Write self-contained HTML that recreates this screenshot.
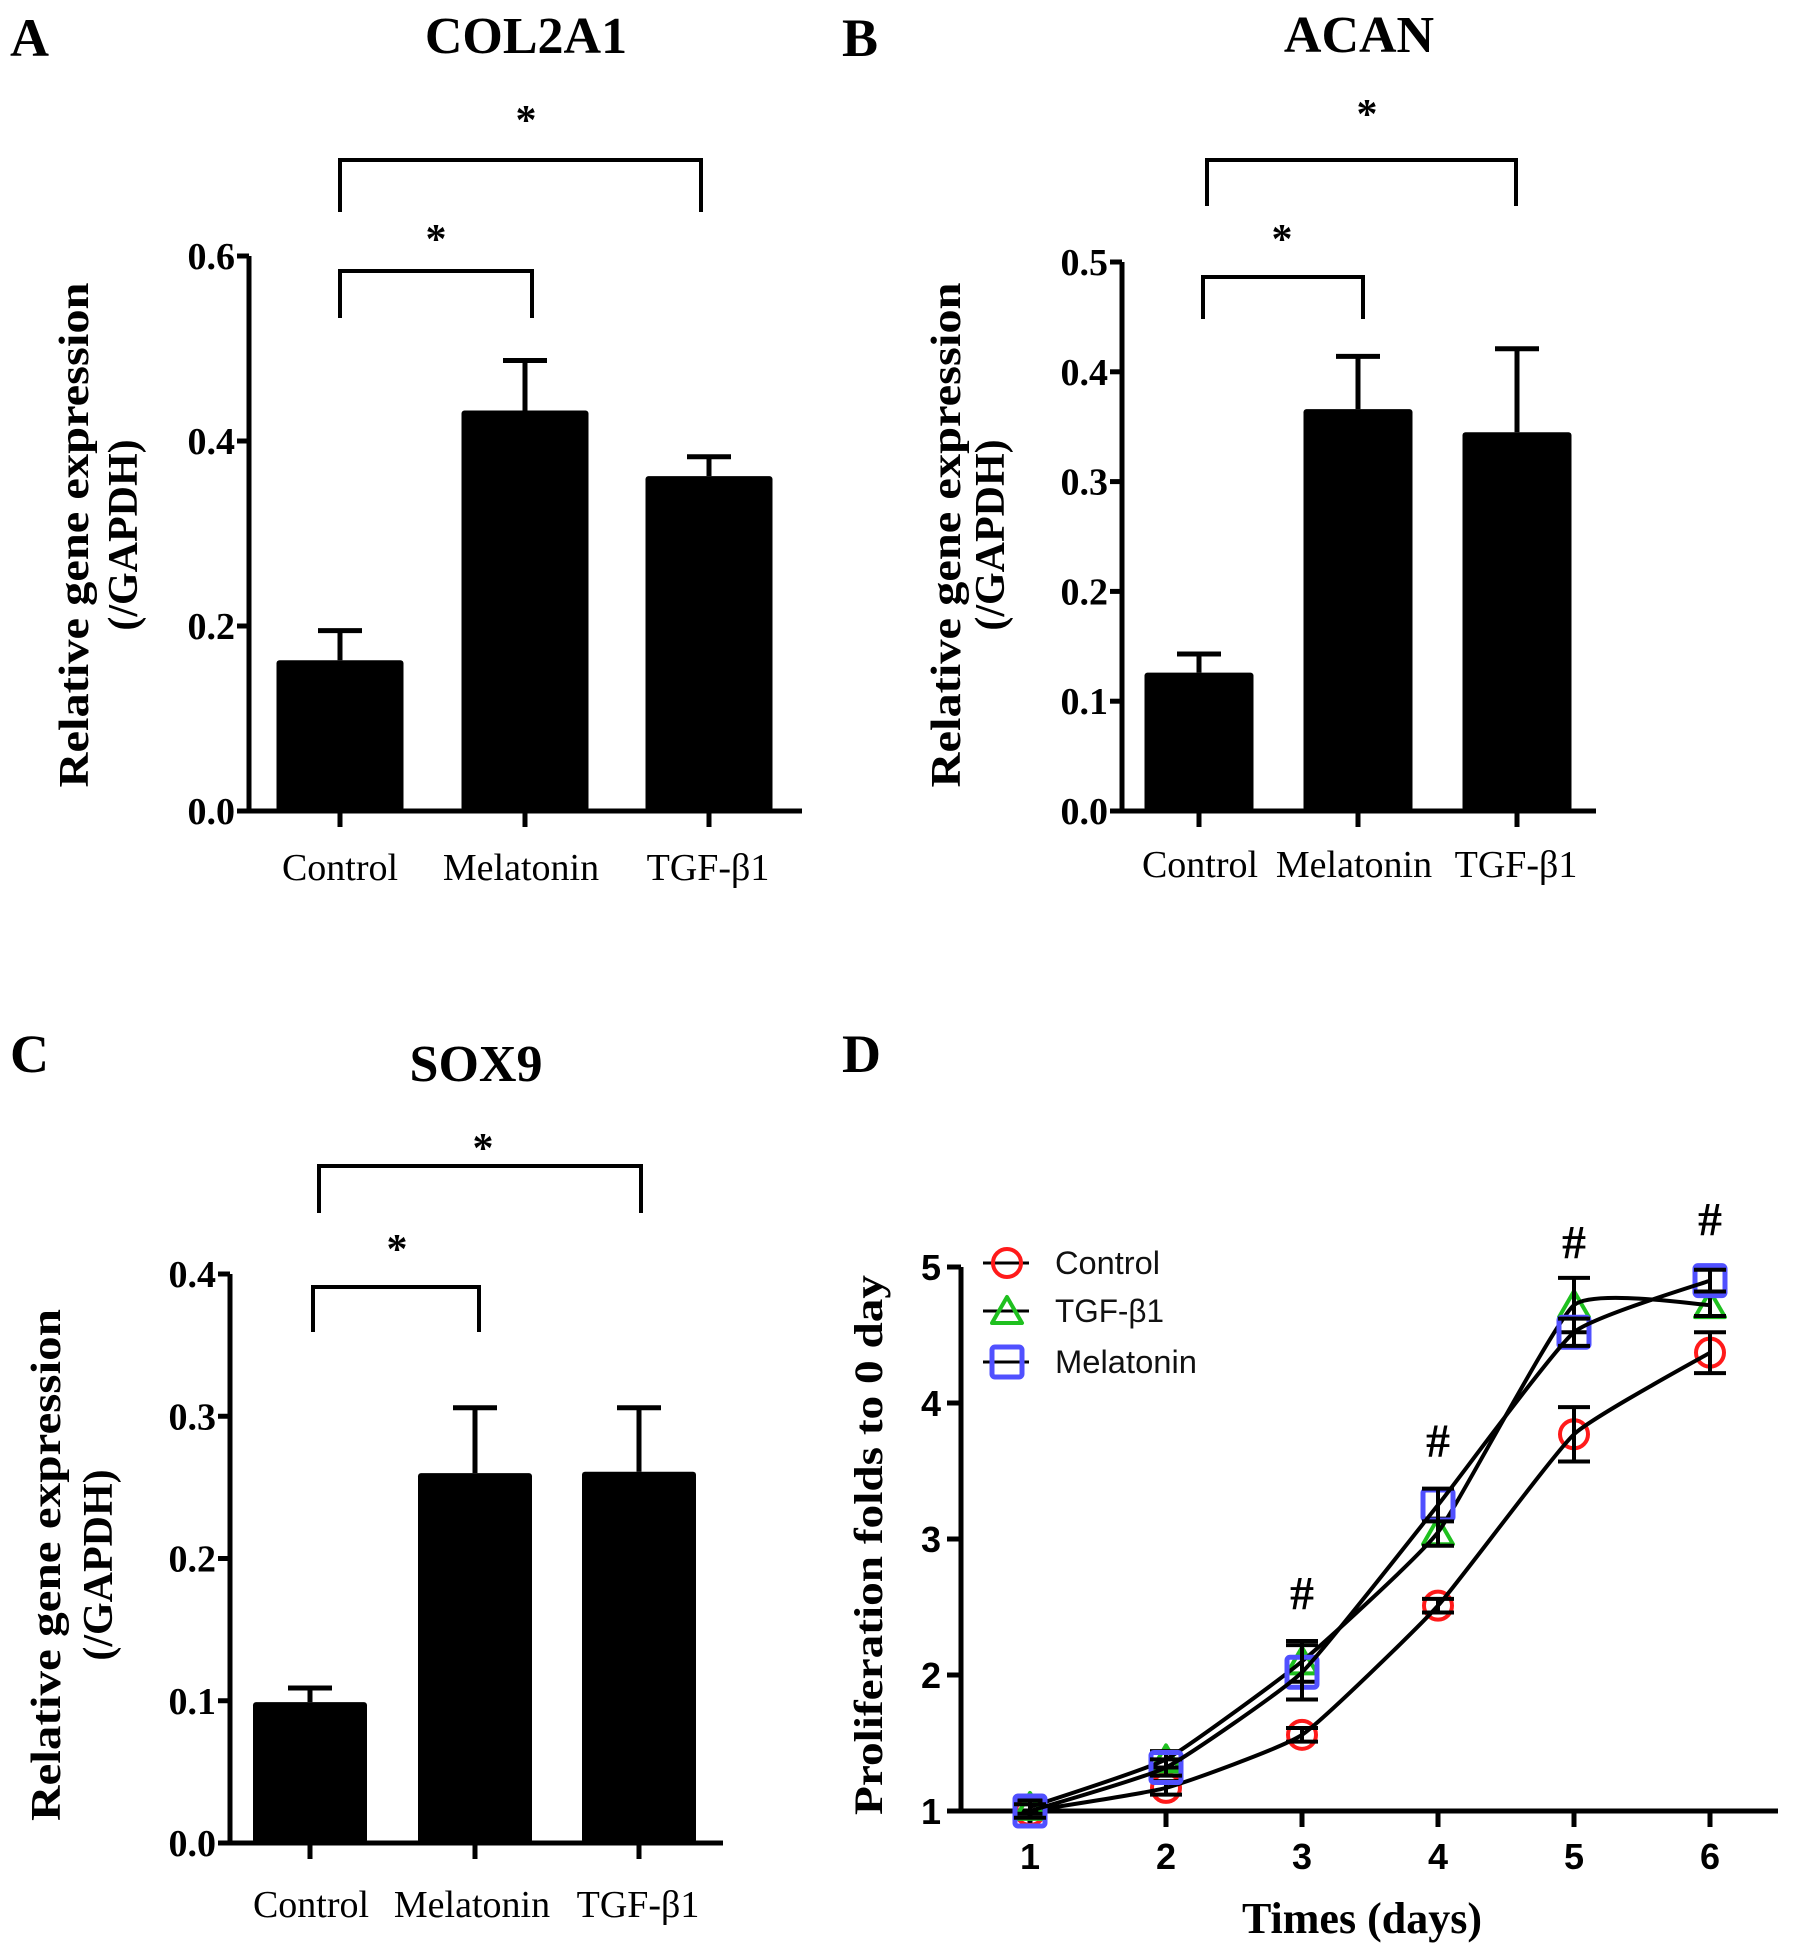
<!DOCTYPE html>
<html><head><meta charset="utf-8"><title>Chondrogenic gene expression and proliferation</title>
<style>
html,body{margin:0;padding:0;background:#fff;}
svg{display:block;}
.tb{font-family:"Liberation Serif",serif;font-weight:bold;fill:#000;}
.tn{font-family:"Liberation Serif",serif;fill:#000;}
.sb{font-family:"Liberation Sans",sans-serif;font-weight:bold;fill:#000;}
.sn{font-family:"Liberation Sans",sans-serif;fill:#111;}
</style></head>
<body>
<svg id="fig" width="1795" height="1957" viewBox="0 0 1795 1957" xmlns="http://www.w3.org/2000/svg">
<rect width="1795" height="1957" fill="#fff"/>
</svg>
<script>
// ---- Panel A data (COL2A1)
const aCategories = ["Control", "Melatonin", "TGF-β1"];
const aValues = [0.163, 0.433, 0.362];
const aErrors = [0.032, 0.054, 0.021];
const aTicks = [0.0, 0.2, 0.4, 0.6];
const aTickLabels = ["0.0", "0.2", "0.4", "0.6"];
// ---- Panel B data (ACAN)
const bCategories = ["Control", "Melatonin", "TGF-β1"];
const bValues = [0.126, 0.366, 0.345];
const bErrors = [0.017, 0.048, 0.076];
const bTicks = [0.0, 0.1, 0.2, 0.3, 0.4, 0.5];
const bTickLabels = ["0.0", "0.1", "0.2", "0.3", "0.4", "0.5"];
// ---- Panel C data (SOX9)
const cCategories = ["Control", "Melatonin", "TGF-β1"];
const cValues = [0.099, 0.26, 0.261];
const cErrors = [0.01, 0.046, 0.045];
const cTicks = [0.0, 0.1, 0.2, 0.3, 0.4];
const cTickLabels = ["0.0", "0.1", "0.2", "0.3", "0.4"];
// ---- Panel D data (proliferation)
const dDays = [1, 2, 3, 4, 5, 6];
const dControl = [1.0, 1.17, 1.56, 2.51, 3.77, 4.37];
const dControlErr = [0.05, 0.05, 0.05, 0.05, 0.2, 0.15];
const dTGF = [1.03, 1.38, 2.1, 3.05, 4.72, 4.72];
const dTGFErr = [0.05, 0.06, 0.15, 0.1, 0.2, 0.08];
const dMel = [1.0, 1.32, 2.02, 3.25, 4.52, 4.9];
const dMelErr = [0.05, 0.06, 0.2, 0.12, 0.1, 0.08];
const dYTicks = [1, 2, 3, 4, 5];
const dXTicks = [1, 2, 3, 4, 5, 6];
const dHashDays = [3, 4, 5, 6];
const dHashValues = [2.6, 3.72, 5.18, 5.35];

const NS = "http://www.w3.org/2000/svg";
const fig = document.getElementById("fig");
function mk(tag, attrs, parent) {
  const e = document.createElementNS(NS, tag);
  for (const k in attrs) e.setAttribute(k, attrs[k]);
  (parent || fig).appendChild(e);
  return e;
}
function txt(str, attrs, parent) {
  const t = mk("text", attrs, parent);
  t.textContent = str;
  return t;
}

function barPanel(L, cats, vals, errs, ticks, tickLabels) {
  const g = mk("g", {});
  
  
  const ymax = ticks[ticks.length - 1];
  const ys = v => L.y0 - (v / ymax) * (L.y0 - L.yTop);
  const xs = i => L.cx[i];
  const letter = txt(L.letter, {x: L.letterX, y: L.letterY, class: "tb", "font-size": 54}, g);
  
  
  const title = txt(L.title, {x: L.titleX, y: L.titleY, class: "tb", "font-size": 52, "text-anchor": "middle"}, g);
  
  
  for (let i = 0; i < cats.length; i++) {
    const top = ys(vals[i]);
    const etop = ys(vals[i] + errs[i]);
    const eb = mk("path", {d: `M${xs(i)} ${top} V${etop} M${xs(i)-22} ${etop} H${xs(i)+22}`, stroke: "#000", "stroke-width": 5, fill: "none"}, g);
    
    
    const r = mk("rect", {x: xs(i) - L.bw / 2, y: top, width: L.bw, height: L.y0 - top, fill: "#000", rx: 3}, g);
    
    
    const tk = mk("line", {x1: xs(i), x2: xs(i), y1: L.y0, y2: L.y0 + 16, stroke: "#000", "stroke-width": 5}, g);
    
    
    const lb = txt(cats[i], {x: L.labX[i], y: L.labY, class: "tn", "font-size": 38, "text-anchor": "middle"}, g);
    
    
  }
  const ax = mk("path", {d: `M${L.ax} ${L.yTop} V${L.y0} M${L.ax - 12} ${L.y0} H${L.xEnd}`, stroke: "#000", "stroke-width": 5, fill: "none"}, g);
  
  
  for (let i = 0; i < ticks.length; i++) {
    const y = ys(ticks[i]);
    const t = mk("line", {x1: L.ax - 12, x2: L.ax, y1: y, y2: y, stroke: "#000", "stroke-width": 5}, g);
    
    
    const tl = txt(tickLabels[i], {x: L.ax - 14, y: y + 13, class: "tb", "font-size": 38, "text-anchor": "end"}, g);
    
    
  }
  const yt1 = txt("Relative gene expression", {x: 0, y: 0, class: "tb", "font-size": 42, "text-anchor": "middle", transform: `translate(${L.yt1} ${L.ytCy}) rotate(-90)`, textLength: L.ytLen, lengthAdjust: "spacingAndGlyphs"}, g);
  
  
  const yt2 = txt("(/GAPDH)", {x: 0, y: 0, class: "tb", "font-size": 42, "text-anchor": "middle", transform: `translate(${L.yt2} ${L.ytCy}) rotate(-90)`}, g);
  
  
  for (const b of L.brackets) {
    const p = mk("path", {d: `M${b[0]} ${b[3]} V${b[2]} H${b[1]} V${b[3]}`, stroke: "#000", "stroke-width": 4, fill: "none"}, g);
    
    
    const s = txt("*", {x: b[4], y: b[5] + 22, class: "tb", "font-size": 42, "text-anchor": "middle"}, g);
    
    
  }
}

barPanel({id: "col2a1", letter: "A", letterX: 10, letterY: 56, title: "COL2A1", titleX: 526, titleY: 53,
  ax: 249, y0: 811, yTop: 256, xEnd: 802, bw: 127, cx: [340, 525, 709], labX: [340, 521, 708], labY: 880,
  yt1: 88, yt2: 137, ytCy: 535, ytLen: 505,
  brackets: [[340, 701, 160, 212, 526, 112], [340, 532, 271, 318, 436, 231]]},
  aCategories, aValues, aErrors, aTicks, aTickLabels);

barPanel({id: "acan", letter: "B", letterX: 842, letterY: 56, title: "ACAN", titleX: 1359, titleY: 52,
  ax: 1122, y0: 811, yTop: 262, xEnd: 1596, bw: 109, cx: [1199, 1358, 1517], labX: [1200, 1354, 1516], labY: 877,
  yt1: 960, yt2: 1004, ytCy: 535, ytLen: 505,
  brackets: [[1207, 1516, 160, 206, 1367, 106], [1203, 1363, 277, 319, 1282, 231]]},
  bCategories, bValues, bErrors, bTicks, bTickLabels);

barPanel({id: "sox9", letter: "C", letterX: 10, letterY: 1072, title: "SOX9", titleX: 476, titleY: 1081,
  ax: 230, y0: 1843, yTop: 1274, xEnd: 723, bw: 114, cx: [310, 475, 639], labX: [311, 472, 638], labY: 1917,
  yt1: 60, yt2: 112, ytCy: 1565, ytLen: 512,
  brackets: [[319, 641, 1166, 1213, 483, 1140], [313, 479, 1287, 1332, 397, 1241]]},
  cCategories, cValues, cErrors, cTicks, cTickLabels);

// ---- Panel D
(function () {
  const g = mk("g", {});
  
  
  const ax = 961, y1 = 1811, unit = 136, x1 = 1030, xEnd = 1778;
  const xs = d => x1 + (d - 1) * 136;
  const ys = v => y1 - (v - 1) * unit;
  const letter = txt("D", {x: 842, y: 1072, class: "tb", "font-size": 54}, g);
  
  
  const axes = mk("path", {d: `M${ax} ${ys(5)} V${y1} M${ax - 14} ${y1} H${xEnd}`, stroke: "#000", "stroke-width": 5, fill: "none"}, g);
  
  
  for (const t of dYTicks) {
    const l = mk("line", {x1: ax - 14, x2: ax, y1: ys(t), y2: ys(t), stroke: "#000", "stroke-width": 5}, g);
    
    
    const tl = txt(String(t), {x: ax - 20, y: ys(t) + 13, class: "sb", "font-size": 36, "text-anchor": "end"}, g);
    
    
  }
  for (const t of dXTicks) {
    const l = mk("line", {x1: xs(t), x2: xs(t), y1: y1, y2: y1 + 16, stroke: "#000", "stroke-width": 5}, g);
    
    
    const tl = txt(String(t), {x: xs(t), y: 1869, class: "sb", "font-size": 36, "text-anchor": "middle"}, g);
    
    
  }
  const xt = txt("Times (days)", {x: 1362, y: 1933, class: "tb", "font-size": 44, "text-anchor": "middle"}, g);
  
  
  const yt = txt("Proliferation folds to 0 day", {x: 0, y: 0, class: "tb", "font-size": 40, "text-anchor": "middle", transform: "translate(882 1545) rotate(-90)", textLength: 540, lengthAdjust: "spacingAndGlyphs"}, g);
  
  

  function marker(kind, color, cx, cy, parent) {
    let m;
    if (kind === "circle") m = mk("circle", {cx: cx, cy: cy, r: 14, fill: "none", stroke: color, "stroke-width": 4}, parent);
    else if (kind === "tri") m = mk("path", {d: `M${cx} ${cy - 14} L${cx + 15} ${cy + 12} L${cx - 15} ${cy + 12} Z`, fill: "none", stroke: color, "stroke-width": 4, "stroke-linejoin": "round"}, parent);
    else m = mk("rect", {x: cx - 15, y: cy - 15, width: 30, height: 30, rx: 3, fill: "none", stroke: color, "stroke-width": 5}, parent);
    return m;
  }
  function smoothPath(pts) {
    let d = `M${pts[0][0]} ${pts[0][1]}`;
    for (let i = 0; i < pts.length - 1; i++) {
      const p0 = pts[Math.max(0, i - 1)], p1 = pts[i], p2 = pts[i + 1], p3 = pts[Math.min(pts.length - 1, i + 2)];
      const c1x = p1[0] + (p2[0] - p0[0]) / 14, c1y = p1[1] + (p2[1] - p0[1]) / 14;
      const c2x = p2[0] - (p3[0] - p1[0]) / 14, c2y = p2[1] - (p3[1] - p1[1]) / 14;
      d += ` C${c1x} ${c1y} ${c2x} ${c2y} ${p2[0]} ${p2[1]}`;
    }
    return d;
  }
  const series = [
    {name: "control", vals: dControl, errs: dControlErr, kind: "circle", color: "#ff1a1a"},
    {name: "tgf", vals: dTGF, errs: dTGFErr, kind: "tri", color: "#1fc01f"},
    {name: "melatonin", vals: dMel, errs: dMelErr, kind: "square", color: "#5050ff"}
  ];
  for (const s of series) {
    const sg = mk("g", {}, g);
    
    
    for (let i = 0; i < dDays.length; i++) {
      const m = marker(s.kind, s.color, xs(dDays[i]), ys(s.vals[i]), sg);
      
      
    }
    const pts = dDays.map((d, i) => [xs(d), ys(s.vals[i])]);
    const ln = mk("path", {d: smoothPath(pts), fill: "none", stroke: "#000", "stroke-width": 4}, sg);
    
    
    for (let i = 0; i < dDays.length; i++) {
      const x = xs(dDays[i]), yt = ys(s.vals[i] + s.errs[i]), yb = ys(s.vals[i] - s.errs[i]);
      const e = mk("path", {d: `M${x} ${yt} V${yb} M${x - 16} ${yt} H${x + 16} M${x - 16} ${yb} H${x + 16}`, stroke: "#000", "stroke-width": 4, fill: "none"}, sg);
      
      
    }
  }
  for (let i = 0; i < dHashDays.length; i++) {
    const h = txt("#", {x: xs(dHashDays[i]), y: ys(dHashValues[i]) + 16, class: "tb", "font-size": 48, "text-anchor": "middle"}, g);
    
    
  }
  const leg = mk("g", {}, g);
  
  
  const legLabels = ["Control", "TGF-β1", "Melatonin"];
  const legRows = [1263, 1311, 1362];
  const legLens = [105, 109, 142];
  for (let i = 0; i < series.length; i++) {
    const eg = mk("g", {}, leg);
    
    
    mk("line", {x1: 983, x2: 1029, y1: legRows[i], y2: legRows[i], stroke: "#000", "stroke-width": 3}, eg);
    marker(series[i].kind, series[i].color, 1007, legRows[i], eg);
    txt(legLabels[i], {x: 1055, y: legRows[i] + 11, class: "sn", "font-size": 32, textLength: legLens[i], lengthAdjust: "spacingAndGlyphs"}, eg);
  }
})();
</script>
</body></html>
